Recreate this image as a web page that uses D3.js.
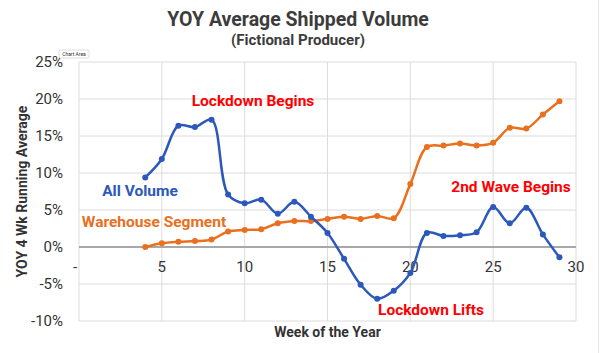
<!DOCTYPE html>
<html>
<head>
<meta charset="utf-8">
<script src="https://cdn.jsdelivr.net/npm/d3@7"></script>
<style>
  body { margin: 0; background: #fff; }
  text { font-family: Roboto, "Noto Sans", sans-serif; }
</style>
</head>
<body>
<div id="chart"></div>
<script>
// Data
const weeks = [4, 5, 6, 7, 8, 9, 10, 11, 12, 13, 14, 15, 16, 17, 18, 19, 20, 21, 22, 23, 24, 25, 26, 27, 28, 29];
const allVolume = [9.4, 11.9, 16.4, 16.2, 17.2, 7.1, 5.9, 6.4, 4.5, 6.1, 4.1, 1.9, -1.6, -5.1, -7.0, -5.9, -3.5, 1.9, 1.5, 1.6, 2.0, 5.4, 3.2, 5.3, 1.7, -1.4];
const warehouse = [0.0, 0.5, 0.7, 0.8, 1.0, 2.1, 2.3, 2.4, 3.2, 3.5, 3.5, 3.8, 4.1, 3.8, 4.2, 3.9, 8.5, 13.5, 13.7, 14.0, 13.7, 14.1, 16.1, 16.0, 17.9, 19.7];
const yTicks = [-10, -5, 0, 5, 10, 15, 20, 25];
const xTicks = [0, 5, 10, 15, 20, 25, 30];

const width = 600;
const height = 353;

const svg = d3.select("#chart")
    .append("svg")
    .attr("width", width)
    .attr("height", height);

const x = d3.scaleLinear().domain([0, 30]).range([79, 576]);
const y = d3.scaleLinear().domain([-10, 25]).range([321, 62]);

// faint outer border on the right
svg.append("line")
    .attr("x1", 598.5).attr("x2", 598.5)
    .attr("y1", 0).attr("y2", height)
    .attr("stroke", "#e6e6e6");

// gridlines
svg.append("g")
    .selectAll("line")
    .data(yTicks)
    .join("line")
    .attr("x1", x(0)).attr("x2", x(30))
    .attr("y1", d => y(d)).attr("y2", d => y(d))
    .attr("stroke", "#dcdcdc")
    .attr("stroke-width", 1);

svg.append("g")
    .selectAll("line")
    .data(xTicks)
    .join("line")
    .attr("x1", d => x(d)).attr("x2", d => x(d))
    .attr("y1", y(25)).attr("y2", y(-10))
    .attr("stroke", "#dcdcdc")
    .attr("stroke-width", 1);

// zero baseline
svg.append("line")
    .attr("x1", x(0)).attr("x2", x(30))
    .attr("y1", y(0)).attr("y2", y(0))
    .attr("stroke", "#a8a8a8")
    .attr("stroke-width", 2);

// y tick labels
svg.append("g")
    .selectAll("text")
    .data(yTicks)
    .join("text")
    .attr("x", 63)
    .attr("y", d => y(d))
    .attr("dy", "0.35em")
    .attr("text-anchor", "end")
    .attr("font-size", 15)
    .attr("fill", "#333")
    .text(d => d + "%");

// x tick labels (sit under the zero line)
svg.append("g")
    .selectAll("text")
    .data(xTicks)
    .join("text")
    .attr("x", d => d === 0 ? x(d) - 4 : x(d))
    .attr("y", y(0) + 20)
    .attr("dy", "0.35em")
    .attr("text-anchor", "middle")
    .attr("font-size", 15)
    .attr("fill", "#333")
    .text(d => d === 0 ? "-" : d);

// lines
const line = d3.line()
    .x(d => x(d[0]))
    .y(d => y(d[1]))
    .curve(d3.curveCatmullRom.alpha(0.5));

const series = [
    { values: warehouse, color: "#e8701e" },
    { values: allVolume, color: "#2b58ba" }
];

series.forEach(s => {
    const pts = weeks.map((w, i) => [w, s.values[i]]);
    svg.append("path")
        .datum(pts)
        .attr("d", line)
        .attr("fill", "none")
        .attr("stroke", s.color)
        .attr("stroke-width", 2.5);
    svg.append("g")
        .selectAll("circle")
        .data(pts)
        .join("circle")
        .attr("cx", d => x(d[0]))
        .attr("cy", d => y(d[1]))
        .attr("r", 3)
        .attr("fill", s.color);
});

// titles
svg.append("text")
    .attr("x", 298).attr("y", 26)
    .attr("text-anchor", "middle")
    .attr("font-size", 19.5)
    .attr("font-weight", "bold")
    .attr("fill", "#3c3c3c")
    .text("YOY Average Shipped Volume");

svg.append("text")
    .attr("x", 298).attr("y", 45)
    .attr("text-anchor", "middle")
    .attr("font-size", 15)
    .attr("font-weight", "bold")
    .attr("fill", "#3c3c3c")
    .text("(Fictional Producer)");

svg.append("text")
    .attr("transform", `translate(27, ${(y(25) + y(-10)) / 2}) rotate(-90)`)
    .attr("text-anchor", "middle")
    .attr("font-size", 14)
    .attr("font-weight", "bold")
    .attr("fill", "#333")
    .text("YOY 4 Wk Running Average");

svg.append("text")
    .attr("x", (x(0) + x(30)) / 2).attr("y", 337)
    .attr("text-anchor", "middle")
    .attr("font-size", 14)
    .attr("font-weight", "bold")
    .attr("fill", "#333")
    .text("Week of the Year");

// annotations
const notes = [
    { text: "Lockdown Begins", cx: 253, by: 106, color: "#ff0000" },
    { text: "All Volume", cx: 140, by: 196, color: "#2b58ba" },
    { text: "Warehouse Segment", cx: 154, by: 227, color: "#e8701e" },
    { text: "2nd Wave Begins", cx: 511, by: 192, color: "#ff0000" },
    { text: "Lockdown Lifts", cx: 431, by: 315, color: "#ff0000" }
];

svg.append("g")
    .selectAll("text")
    .data(notes)
    .join("text")
    .attr("x", d => d.cx)
    .attr("y", d => d.by)
    .attr("text-anchor", "middle")
    .attr("font-size", 15.5)
    .attr("font-weight", "bold")
    .attr("fill", d => d.color)
    .text(d => d.text);

// "Chart Area" hover tag seen in the screenshot
const tag = svg.append("g").attr("transform", "translate(59, 50)");
tag.append("rect")
    .attr("width", 30).attr("height", 8)
    .attr("rx", 1.5)
    .attr("fill", "#fff")
    .attr("stroke", "#bbb")
    .attr("stroke-width", 0.5);
tag.append("text")
    .attr("x", 15).attr("y", 5.8)
    .attr("text-anchor", "middle")
    .attr("font-size", 5)
    .attr("fill", "#333")
    .text("Chart Area");
</script>
</body>
</html>
